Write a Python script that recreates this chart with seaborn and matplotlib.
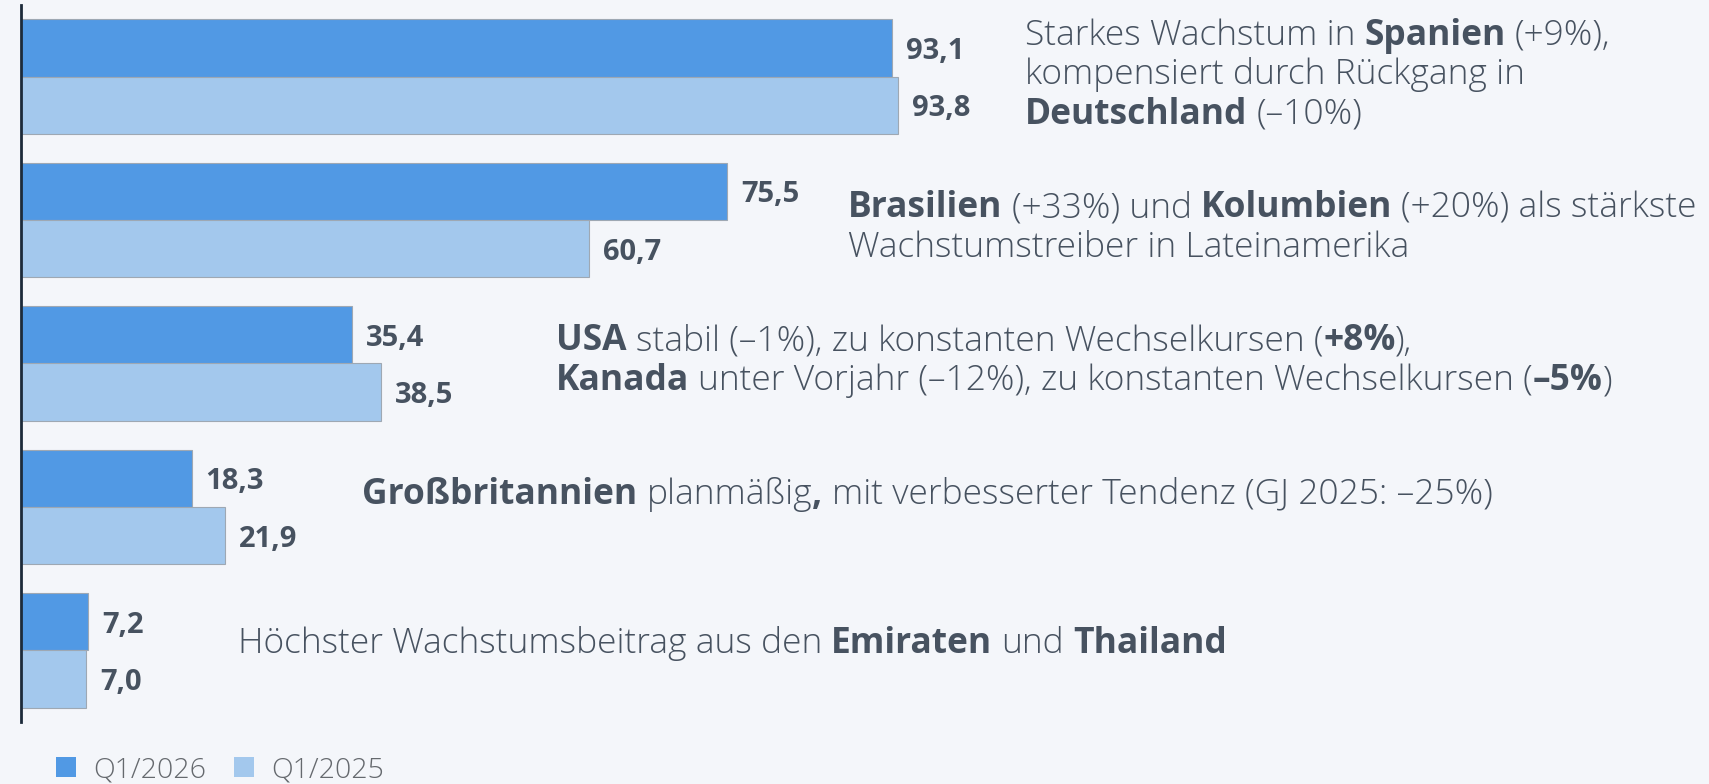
import matplotlib
matplotlib.use("Agg")
import matplotlib.pyplot as plt
from matplotlib.patches import Patch
import seaborn as sns
import pandas as pd

# ---------------- data ----------------
regions = ["Europa", "Lateinamerika", "Nordamerika", "Großbritannien", "Rest der Welt"]
periods = ["Q1/2026", "Q1/2025"]
q1_2026 = [93.1, 75.5, 35.4, 18.3, 7.2]
q1_2025 = [93.8, 60.7, 38.5, 21.9, 7.0]
comments = [
    ["Starkes Wachstum in **Spanien** (+9%),",
     "kompensiert durch Rückgang in",
     "**Deutschland** (–10%)"],
    ["**Brasilien** (+33%) und **Kolumbien** (+20%) als stärkste",
     "Wachstumstreiber in Lateinamerika"],
    ["**USA** stabil (–1%), zu konstanten Wechselkursen (**+8%**),",
     "**Kanada** unter Vorjahr (–12%), zu konstanten Wechselkursen (**–5%**)"],
    ["**Großbritannien** planmäßig**,** mit verbesserter Tendenz (GJ 2025: –25%)"],
    ["Höchster Wachstumsbeitrag aus den **Emiraten** und **Thailand**"],
]

# ---------------- style ----------------
BG = "#f4f6fa"
DARK = "#5199e4"
LIGHT = "#a3c8ed"
TXT = "#475260"
FONT = ["Open Sans", "DejaVu Sans"]
W, H, DPI = 1709, 784, 100

sns.set_theme(style="white")
plt.rcParams["font.family"] = FONT

df = pd.DataFrame({
    "region": regions * 2,
    "period": [periods[0]] * len(regions) + [periods[1]] * len(regions),
    "value": q1_2026 + q1_2025,
})

fig = plt.figure(figsize=(W / DPI, H / DPI), dpi=DPI, facecolor=BG)
ax = fig.add_axes([20.5 / W, 62 / H, 1 - 20.5 / W, (722 - 5) / H])
ax.set_facecolor(BG)

sns.barplot(data=df, y="region", x="value", hue="period", hue_order=periods,
            order=regions, orient="h", palette=[DARK, LIGHT], width=0.8,
            edgecolor="#9ea8b3", linewidth=0.8, saturation=1, ax=ax, legend=False)

ax.set_xlim(0, (W - 20.5) / 9.36)
ax.set_ylim(len(regions) - 0.5, -0.5)
ax.set_xlabel("")
ax.set_ylabel("")
ax.set_xticks([])
ax.set_yticks([])
for s in ["top", "right", "bottom"]:
    ax.spines[s].set_visible(False)
ax.spines["left"].set_color("#1c2a3a")
ax.spines["left"].set_linewidth(2)

# value labels
for cont, vals in zip(ax.containers, [q1_2026, q1_2025]):
    texts = ax.bar_label(cont, labels=[f"{v:.1f}".replace(".", ",") for v in vals],
                         padding=10, fontsize=21, fontweight="bold", color=TXT)
    for t in texts:
        t.xyann = (10, -2.5)

# ---------------- annotations with mixed weights ----------------
fig.canvas.draw()
renderer = fig.canvas.get_renderer()
FS = 25.5
REG = "light"


def width_px(s, weight):
    t = fig.text(0, 0, s, fontsize=FS, fontweight=weight, family=FONT)
    w = t.get_window_extent(renderer).width
    t.remove()
    return w


space_w = width_px("x x", REG) - width_px("xx", REG)

# layout: x in data units, baseline offsets (px) from category centre
ann_x = [107.3, 88.4, 57.2, 36.5, 23.2]
ann_dy = [[-32, 7, 47], [-3, 37], [-13, 27], [-3], [3]]

for ci, lines in enumerate(comments):
    for li, line in enumerate(lines):
        parts = line.split("**")
        xoff = 0.0
        prev_trailing = False
        for pi, seg in enumerate(parts):
            if seg == "":
                continue
            bold = pi % 2 == 1
            weight = "bold" if bold else REG
            lead = seg[0] == " "
            if xoff > 0 and (lead or prev_trailing):
                xoff += space_w
            s = seg.strip()
            ax.annotate(s, xy=(ann_x[ci], ci), xycoords="data",
                        xytext=(xoff * 72 / DPI, -ann_dy[ci][li] * 72 / DPI),
                        textcoords="offset points", ha="left", va="baseline",
                        fontsize=FS, fontweight=weight, color=TXT, family=FONT)
            xoff += width_px(s, weight)
            prev_trailing = seg[-1] == " "

# legend
handles = [Patch(facecolor=c, edgecolor="none") for c in [DARK, LIGHT]]
fig.legend(handles, periods, loc="lower left", bbox_to_anchor=(56 / W, 0.0),
           ncol=2, frameon=False, handlelength=0.7, handleheight=0.7,
           handletextpad=0.6, columnspacing=1.0, borderpad=0, borderaxespad=0,
           labelcolor="#65696e", prop={"family": FONT, "weight": REG, "size": 20.5})

fig.savefig("out.png", dpi=DPI, facecolor=BG)
